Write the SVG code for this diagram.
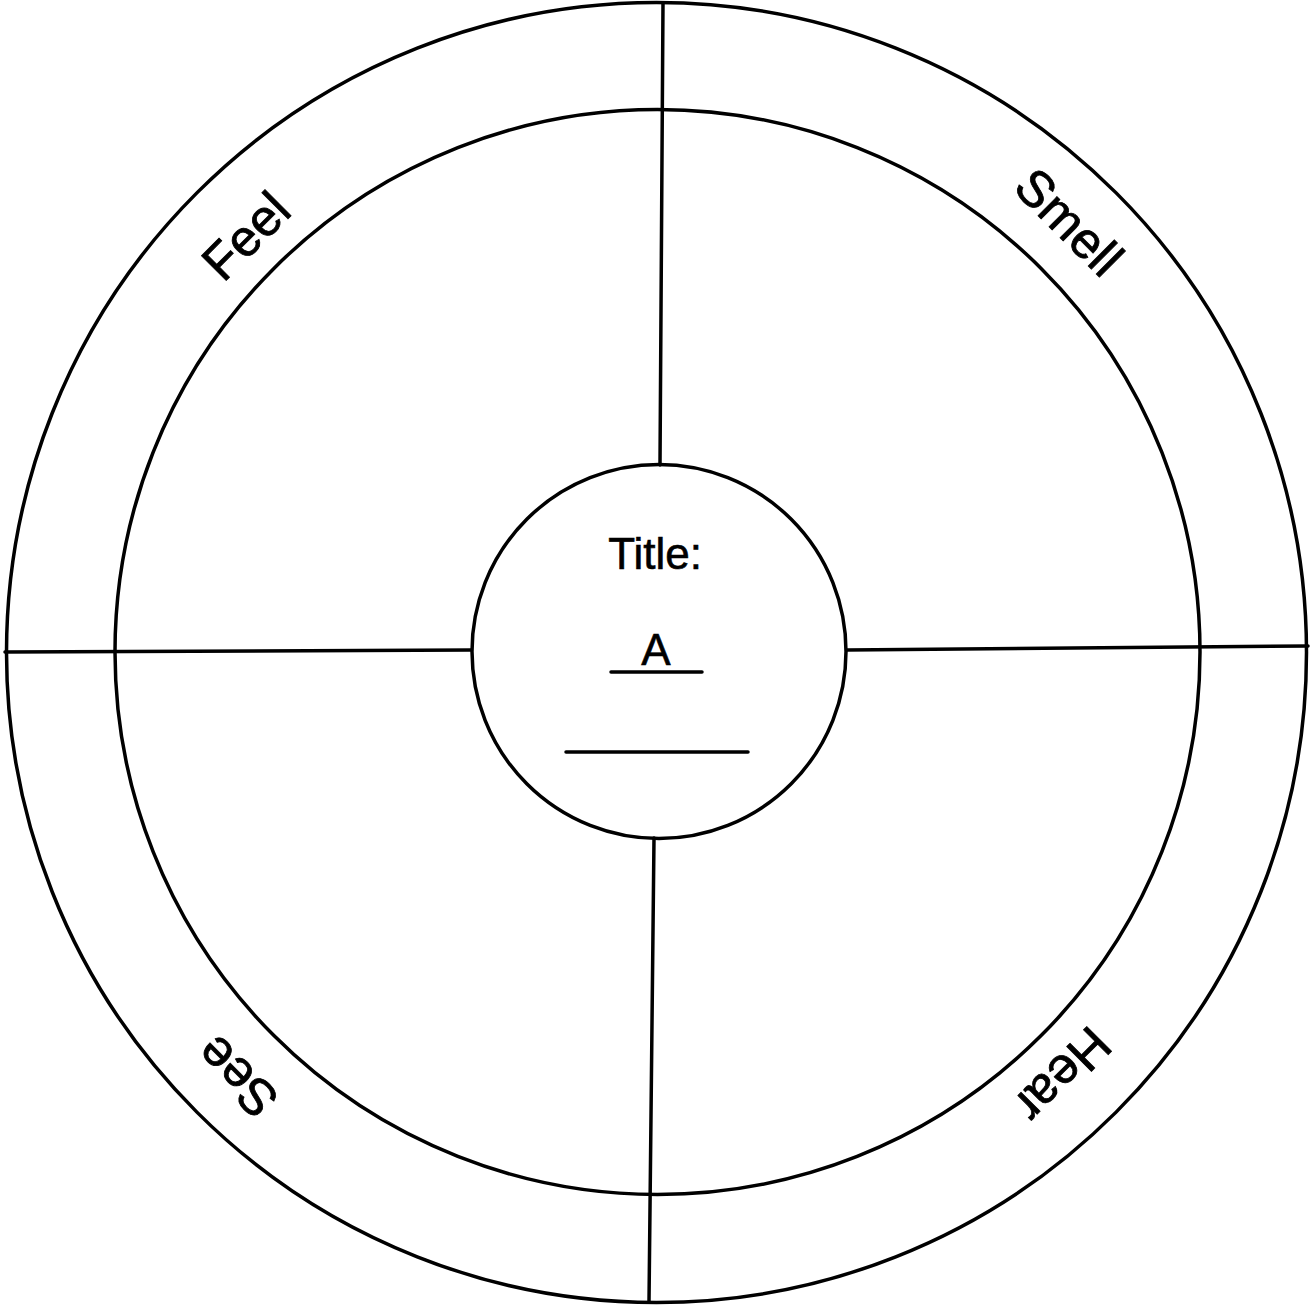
<svg xmlns="http://www.w3.org/2000/svg" width="1311" height="1305" viewBox="0 0 1311 1305">
<style>
.ln{stroke:#000;stroke-width:3.5;fill:none;stroke-linecap:round}
.lbl{font-family:"Liberation Sans",Arial,sans-serif;font-size:51px;fill:#000;stroke:#000;stroke-width:0.8;text-anchor:middle;dominant-baseline:central}
.ttl{font-family:"Liberation Sans",Arial,sans-serif;font-size:44px;fill:#000;stroke:#000;stroke-width:0.6;text-anchor:middle}
</style>
<rect width="1311" height="1305" fill="#fff"/>
<g id="connectors">
<line class="ln" x1="663" y1="3" x2="660" y2="465"/>
<line class="ln" x1="654" y1="838" x2="649" y2="1302"/>
<line class="ln" x1="5" y1="652" x2="471" y2="650"/>
<line class="ln" x1="847" y1="650" x2="1308" y2="646"/>
</g>
<g id="outer-ring">
<circle class="ln" cx="656.5" cy="652.5" r="650"/>
<circle class="ln" cx="657.5" cy="652" r="542.5"/>
</g>
<g id="feel"><text class="lbl" transform="translate(246,236) rotate(-45)">Feel</text></g>
<g id="smell"><text class="lbl" transform="translate(1069,222) rotate(45)">Smell</text></g>
<g id="see"><text class="lbl" transform="translate(237,1077) rotate(-135)">See</text></g>
<g id="hear"><text class="lbl" transform="translate(1063,1075) rotate(135)">Hear</text></g>
<g id="center">
<circle class="ln" cx="659" cy="651.5" r="187"/>
<text class="ttl" x="655" y="569">Title:</text>
<text class="ttl" x="656" y="665">A</text>
<line class="ln" x1="611" y1="672" x2="702" y2="672" stroke-width="2.5"/>
<line class="ln" x1="566" y1="752" x2="748" y2="752" stroke-width="2.5"/>
</g>
</svg>
